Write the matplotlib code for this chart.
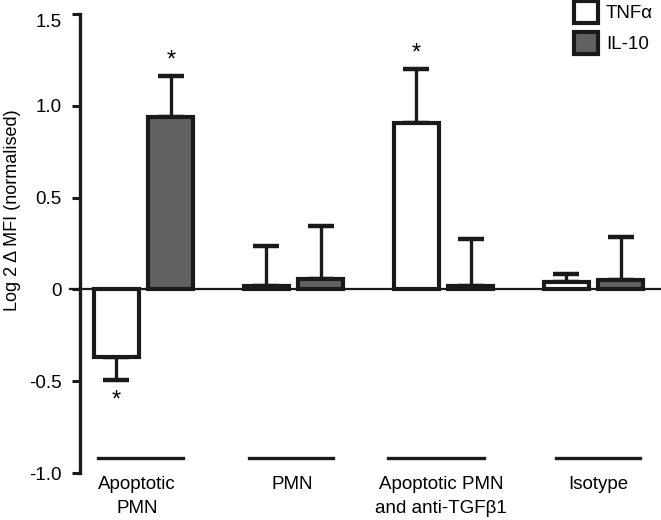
import matplotlib
matplotlib.use("Agg")
import matplotlib.pyplot as plt
import numpy as np

plt.rcParams['font.family'] = ['Liberation Sans', 'DejaVu Sans']

groups = ["Apoptotic\nPMN", "PMN", "Apoptotic PMN\nand anti-TGF\u03b21", "Isotype"]
tnf = [-0.37, 0.02, 0.905, 0.04]
tnf_err = [0.125, 0.215, 0.295, 0.044]
il10 = [0.94, 0.057, 0.02, 0.05]
il10_err = [0.222, 0.288, 0.254, 0.235]
yticks = [-1.0, -0.5, 0, 0.5, 1.0, 1.5]
ytick_labels = ["-1.0", "-0.5", "0", "0.5", "1.0", "1.5"]
# significance stars (series, group)
stars = [("tnf", 0), ("il10", 0), ("tnf", 2)]

grey = '#616161'
x = np.arange(len(groups))
off = 0.183
w = 0.30

fig = plt.figure(figsize=(6.61, 5.20), dpi=100)
ax = fig.add_axes([80/661, 47/520, 581/661, 459/520])

ax.bar(x - off, tnf, w, color='white', edgecolor='#1a1a1a', linewidth=3, zorder=3, label='TNF\u03b1')
ax.bar(x + off, il10, w, color=grey, edgecolor='#1a1a1a', linewidth=3, zorder=3, label='IL-10')

# one sided error bars (away from zero)
tnf_lo = [e if v < 0 else 0 for v, e in zip(tnf, tnf_err)]
tnf_hi = [0 if v < 0 else e for v, e in zip(tnf, tnf_err)]
ax.errorbar(x - off, tnf, yerr=[tnf_lo, tnf_hi], fmt='none', ecolor='#1a1a1a',
            elinewidth=2.4, capsize=9.5, capthick=3.2, zorder=2)
ax.errorbar(x + off, il10, yerr=[[0]*4, il10_err], fmt='none', ecolor='#1a1a1a',
            elinewidth=2.4, capsize=9.5, capthick=3.2, zorder=2)

for s, g in stars:
    if s == "tnf":
        v, e, xx = tnf[g], tnf_err[g], x[g] - off
    else:
        v, e, xx = il10[g], il10_err[g], x[g] + off
    if v < 0:
        ax.text(xx, v - e - 0.05, '*', ha='center', va='top', fontsize=17)
    else:
        ax.text(xx, v + e + 0.025, '*', ha='center', va='bottom', fontsize=17)

ax.axhline(0, xmin=-0.017, xmax=1, color='#1a1a1a', linewidth=1.6, clip_on=False, zorder=1)

# group lines and labels under the axis
line_spans = [(-0.303, 0.263), (0.703, 1.263), (1.63, 2.27), (2.75, 3.31)]
label_x = [-0.043, 0.99, 1.983, 3.03]
for (a, b), lx, lab in zip(line_spans, label_x, groups):
    ax.plot([a, b], [-0.918, -0.918], color='#1a1a1a', linewidth=2.4, clip_on=False)
    ax.text(lx, -1.014, lab, ha='center', va='top', fontsize=13.5, linespacing=1.55)

ax.set_xlim(-0.4233, 3.45)
ax.set_ylim(-1.0, 1.5)
ax.set_yticks(yticks)
ax.set_yticklabels(ytick_labels, fontsize=13.5)
ax.set_xticks([])
ax.get_yticklabels()[-1].set_va('top')
ax.tick_params(axis='y', length=6, width=2.2, pad=7, color='#1a1a1a')
for sp in ['top', 'right', 'bottom']:
    ax.spines[sp].set_visible(False)
ax.spines['left'].set_linewidth(2.4)
ax.spines['left'].set_color('#1a1a1a')

ax.set_ylabel('Log 2 \u0394 MFI (normalised)', fontsize=13)
ax.yaxis.set_label_coords(-0.102, 0.573)

leg = ax.legend(loc='upper left', bbox_to_anchor=(574/661, 1 - 1/520), bbox_transform=fig.transFigure,
                frameon=False, fontsize=13.5, handlelength=1.3, handleheight=1.45,
                handletextpad=0.4, labelspacing=0.45, borderpad=0, borderaxespad=0)

plt.savefig('out.png', dpi=100)
